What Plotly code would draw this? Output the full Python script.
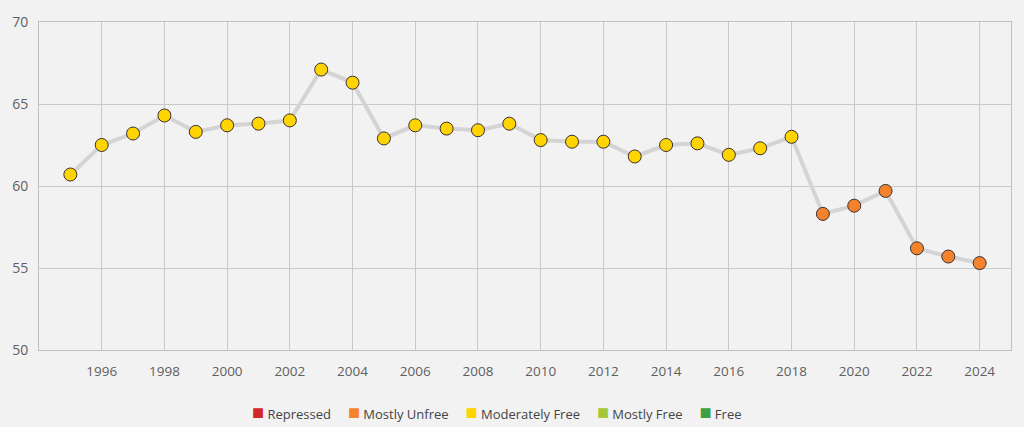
import plotly.graph_objects as go

years = list(range(1995, 2025))
scores = [60.7, 62.5, 63.2, 64.3, 63.3, 63.7, 63.8, 64.0, 67.1, 66.3,
          62.9, 63.7, 63.5, 63.4, 63.8, 62.8, 62.7, 62.7, 61.8, 62.5,
          62.6, 61.9, 62.3, 63.0, 58.3, 58.8, 59.7, 56.2, 55.7, 55.3]
status = ["Moderately Free"] * 24 + ["Mostly Unfree"] * 6

categories = ["Repressed", "Mostly Unfree", "Moderately Free", "Mostly Free", "Free"]
cat_colors = ["#d32626", "#f5822c", "#ffd400", "#a3c93a", "#3f9e46"]
x_ticks = list(range(1996, 2025, 2))
y_ticks = [50, 55, 60, 65, 70]

color_of = dict(zip(categories, cat_colors))

fig = go.Figure()
fig.add_trace(go.Scatter(
    x=years, y=scores, mode="lines",
    line=dict(color="#d4d4d4", width=4),
    hoverinfo="skip", showlegend=False
))
fig.add_trace(go.Scatter(
    x=years, y=scores, mode="markers",
    marker=dict(size=13, color=[color_of[s] for s in status],
                line=dict(color="#3a3030", width=1)),
    text=status,
    hovertemplate="%{x}: %{y}<br>%{text}<extra></extra>",
    showlegend=False
))

# legend row drawn as one centred line of text
legend_text = "&nbsp;&nbsp;&nbsp;&nbsp;&nbsp;".join(
    f'<span style="color:{col};font-size:20px">■</span>&nbsp;{cat}'
    for cat, col in zip(categories, cat_colors)
)
fig.add_annotation(
    text=legend_text, xref="paper", yref="paper",
    x=0.471, y=-0.186, xanchor="center", yanchor="middle",
    showarrow=False, font=dict(size=13, color="#444444")
)

fig.update_layout(
    width=1024, height=427,
    margin=dict(l=39, r=12, t=18, b=77),
    paper_bgcolor="#f2f2f2", plot_bgcolor="#f2f2f2",
    font=dict(family="Open Sans, sans-serif", size=12, color="#555555"),
    showlegend=False,
)
fig.update_xaxes(
    range=[1994, 2025], tickvals=x_ticks,
    showgrid=True, gridcolor="#c9c9c9", gridwidth=1,
    showline=True, linecolor="#c0c0c0", mirror=True,
    zeroline=False, ticks="", ticklabelstandoff=9,
    tickfont=dict(size=13.5, color="#5f5f5f")
)
fig.update_yaxes(
    range=[50, 70], tickvals=y_ticks,
    showgrid=True, gridcolor="#c9c9c9", gridwidth=1,
    showline=True, linecolor="#c0c0c0", mirror=True,
    zeroline=False, ticks="", ticklabelstandoff=7,
    tickfont=dict(size=14, color="#5f5f5f")
)

fig.write_html("out.html", config={"displayModeBar": False},
               post_script="document.body.style.margin='0';document.body.style.overflow='hidden';")
